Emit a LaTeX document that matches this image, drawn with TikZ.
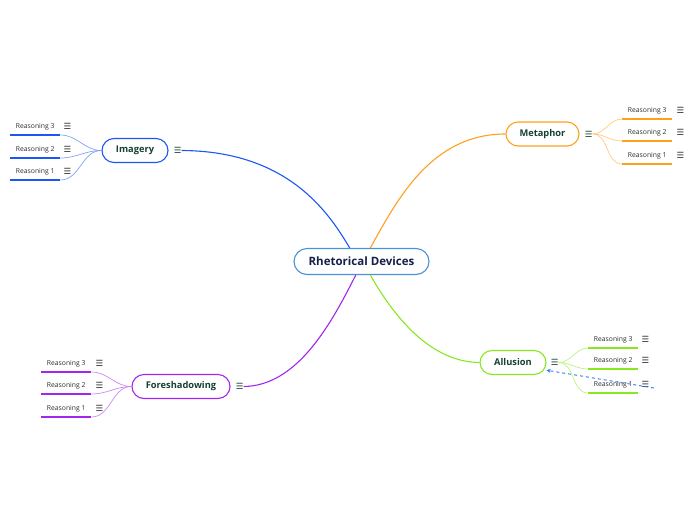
\documentclass[tikz,border=0pt]{standalone}
\usepackage{fontspec}
\setmainfont{Open Sans}
\newfontfamily\symfont{DejaVu Sans}
\usetikzlibrary{positioning,arrows.meta}

\definecolor{rootblue}{RGB}{75,145,215}
\definecolor{rootink}{RGB}{22,32,72}
\definecolor{topicink}{RGB}{22,64,50}
\definecolor{leafink}{RGB}{45,45,45}
\definecolor{imgblue}{RGB}{28,86,245}
\definecolor{metorange}{RGB}{255,160,28}
\definecolor{allgreen}{RGB}{135,232,30}
\definecolor{forpurple}{RGB}{160,38,240}
\definecolor{linkblue}{RGB}{45,115,235}

\tikzset{
  root/.style={draw=rootblue, line width=1.1pt, rounded corners=13pt, fill=white,
    minimum width=135pt, minimum height=26pt, text=rootink,
    font=\fontsize{11.5}{13}\selectfont\bfseries},
  topic/.style={draw=#1, line width=1.1pt, rounded corners=12pt, fill=white,
    minimum height=24pt, text=topicink, font=\fontsize{9.3}{11}\selectfont\bfseries},
  leaf/.style={minimum width=50pt, minimum height=16pt, inner sep=0pt, anchor=south west,
    text=leafink, font=\fontsize{6.8}{8}\selectfont},
  menu/.style={inner sep=0pt, text=#1, font=\symfont\fontsize{8.5}{9}\selectfont},
  branch/.style={draw=#1, line width=1.1pt},
  twig/.style={draw=#1!55, line width=0.7pt},
  bar/.style={draw=#1, line width=1.6pt},
  link/.style={draw=linkblue, line width=0.9pt, dash pattern=on 3pt off 3pt, -{Stealth[length=4pt,width=4pt]}},
}

\begin{document}
\begin{tikzpicture}[x=1pt,y=-1pt]
\useasboundingbox (0,0) rectangle (696,520);

% central topic
\node[root] (rd) at (361.5,261.5) {Rhetorical Devices};

% main branches
\node[topic=imgblue, minimum width=66pt] (img) at (135,150.5) {Imagery};
\node[menu=topicink, right=5pt of img] (imgm) {☰};
\node[topic=metorange, minimum width=73pt] (met) at (542.5,134) {Metaphor};
\node[menu=topicink, right=5pt of met] (metm) {☰};
\node[topic=allgreen, minimum width=66pt] (all) at (513,362.5) {Allusion};
\node[menu=topicink, right=4pt of all] (allm) {☰};
\node[topic=forpurple, minimum width=98pt] (fore) at (181,386.5) {Foreshadowing};
\node[menu=topicink, right=5pt of fore] (forem) {☰};

\draw[branch=imgblue] (imgm.east) .. controls (290,151) and (330,215) .. (rd.131);
\draw[branch=metorange] (rd.57) .. controls (398,198) and (432,134) .. (met.west);
\draw[branch=allgreen] (rd.303) .. controls (396,320) and (432,362) .. (all.west);
\draw[branch=forpurple] (rd.247) .. controls (332,322) and (298,386) .. (forem.east);

% reasoning leaves
\foreach \n/\y in {3/135,2/158,1/180}{
  \node[leaf] (img\n) at (10,\y) {Reasoning \n};
  \node[menu=leafink, right=3pt of img\n] (imgm\n) {☰};
  \draw[bar=imgblue] (img\n.south west) -- (img\n.south east);
  \draw[twig=imgblue] (img.west) to[out=180,in=0] (img\n.south east);
}
\foreach \n/\y in {3/119,2/141,1/164}{
  \node[leaf] (met\n) at (622,\y) {Reasoning \n};
  \node[menu=leafink, right=4pt of met\n] (metm\n) {☰};
  \draw[bar=metorange] (met\n.south west) -- (met\n.south east);
  \draw[twig=metorange] (metm.east) to[out=0,in=180] (met\n.south west);
}
\foreach \n/\y in {3/348,2/369,1/393}{
  \node[leaf] (all\n) at (588,\y) {Reasoning \n};
  \node[menu=leafink, right=3pt of all\n] (allm\n) {☰};
  \draw[bar=allgreen] (all\n.south west) -- (all\n.south east);
  \draw[twig=allgreen] (allm.east) to[out=0,in=180] (all\n.south west);
}
\foreach \n/\y in {3/372,2/394,1/417}{
  \node[leaf] (fore\n) at (41,\y) {Reasoning \n};
  \node[menu=leafink, right=4pt of fore\n] (forem\n) {☰};
  \draw[bar=forpurple] (fore\n.south west) -- (fore\n.south east);
  \draw[twig=forpurple] (fore.west) to[out=180,in=0] (fore\n.south east);
}

% relationship
\coordinate (lnk) at (654,388);
\draw[link] (lnk) -- (all.-13);
\end{tikzpicture}
\end{document}
